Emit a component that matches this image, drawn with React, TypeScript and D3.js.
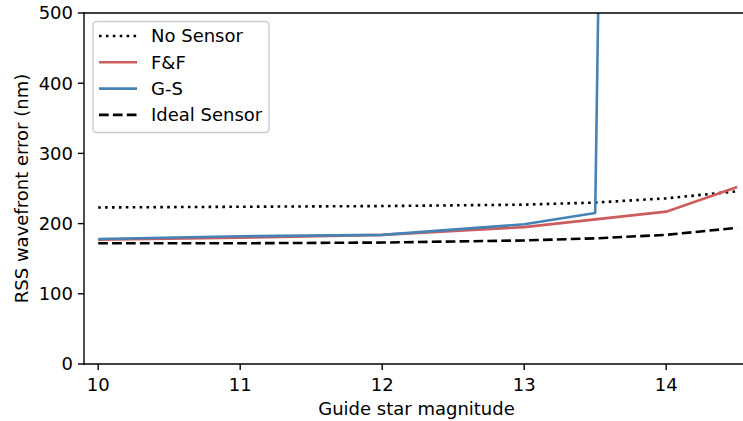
import * as d3 from "d3";

const W = 743;
const H = 421;
const LEFT = 84;
const TOP = 13;
const BOTTOM = 364;
const FONT = "'DejaVu Sans', sans-serif";
const FS = 18;

const magnitudes = [10, 11, 12, 13, 13.5, 14, 14.5];
const noSensor = [223, 224, 225, 227, 230, 236, 246];
const fAndF = [177, 180, 184, 195, 206, 217, 252];
const gS = [178, 182, 184, 199, 215, 7100];
const idealSensor = [172, 172, 173, 176, 179, 184, 194];

const xTicks = [10, 11, 12, 13, 14];
const yTicks = [0, 100, 200, 300, 400, 500];

const series = [
  { name: "No Sensor", values: noSensor, color: "#000000", dash: "2.6,4.3" },
  { name: "F&F", values: fAndF, color: "#cd5c5c", dash: null },
  { name: "G-S", values: gS, color: "#4682b4", dash: null },
  { name: "Ideal Sensor", values: idealSensor, color: "#000000", dash: "9.7,4.2" },
];

export default function App() {
  const x = d3.scaleLinear().domain([9.9, 14.6]).range([LEFT, 751.4]);
  const y = d3.scaleLinear().domain([0, 500]).range([BOTTOM, TOP]);

  const line = d3
    .line<[number, number]>()
    .x((d) => x(d[0]))
    .y((d) => y(d[1]));

  return (
    <svg
      width={W}
      height={H}
      style={{ position: "absolute", left: 0, top: 0, background: "#fff" }}
      fontFamily={FONT}
    >
      <defs>
        <clipPath id="plotArea">
          <rect x={LEFT} y={TOP} width={W - LEFT + 20} height={BOTTOM - TOP} />
        </clipPath>
      </defs>

      <g clipPath="url(#plotArea)">
        {series.map((s) => (
          <path
            key={s.name}
            d={line(s.values.map((v, i) => [magnitudes[i], v] as [number, number])) || ""}
            fill="none"
            stroke={s.color}
            strokeWidth={2.6}
            strokeDasharray={s.dash || undefined}
            strokeLinejoin="round"
          />
        ))}
      </g>

      {/* spines */}
      <line x1={LEFT} x2={LEFT} y1={TOP} y2={BOTTOM} stroke="#000" strokeWidth={1.4} strokeLinecap="square" />
      <line x1={LEFT} x2={W} y1={BOTTOM} y2={BOTTOM} stroke="#000" strokeWidth={1.4} strokeLinecap="square" />
      <line x1={LEFT} x2={W} y1={TOP} y2={TOP} stroke="#000" strokeWidth={1.4} strokeLinecap="square" />

      {xTicks.map((t) => (
        <g key={t} transform={`translate(${x(t)},${BOTTOM})`}>
          <line y1={0} y2={6.1} stroke="#000" strokeWidth={1.4} />
          <text y={26.8} textAnchor="middle" fontSize={FS} fill="#000">
            {t}
          </text>
        </g>
      ))}
      {yTicks.map((t) => (
        <g key={t} transform={`translate(${LEFT},${y(t)})`}>
          <line x1={0} x2={-6.1} stroke="#000" strokeWidth={1.4} />
          <text x={-11} dy="0.36em" textAnchor="end" fontSize={FS} fill="#000">
            {t}
          </text>
        </g>
      ))}

      <text x={(LEFT + W) / 2 + 3} y={414.5} textAnchor="middle" fontSize={FS} fill="#000">
        Guide star magnitude
      </text>
      <text
        transform={`translate(28,${(TOP + BOTTOM) / 2}) rotate(-90)`}
        textAnchor="middle"
        fontSize={FS}
        fill="#000"
      >
        RSS wavefront error (nm)
      </text>

      {/* legend */}
      <g>
        <rect
          x={93}
          y={21.5}
          width={176}
          height={111}
          rx={3.5}
          fill="#fff"
          fillOpacity={0.8}
          stroke="#cccccc"
          strokeWidth={1.4}
        />
        {series.map((s, i) => {
          const cy = 36 + i * 26.3;
          return (
            <g key={s.name}>
              <line
                x1={99}
                x2={137}
                y1={cy}
                y2={cy}
                stroke={s.color}
                strokeWidth={2.6}
                strokeDasharray={s.dash || undefined}
              />
              <text x={151} y={cy} dy="0.36em" fontSize={FS} fill="#000">
                {s.name}
              </text>
            </g>
          );
        })}
      </g>
    </svg>
  );
}
